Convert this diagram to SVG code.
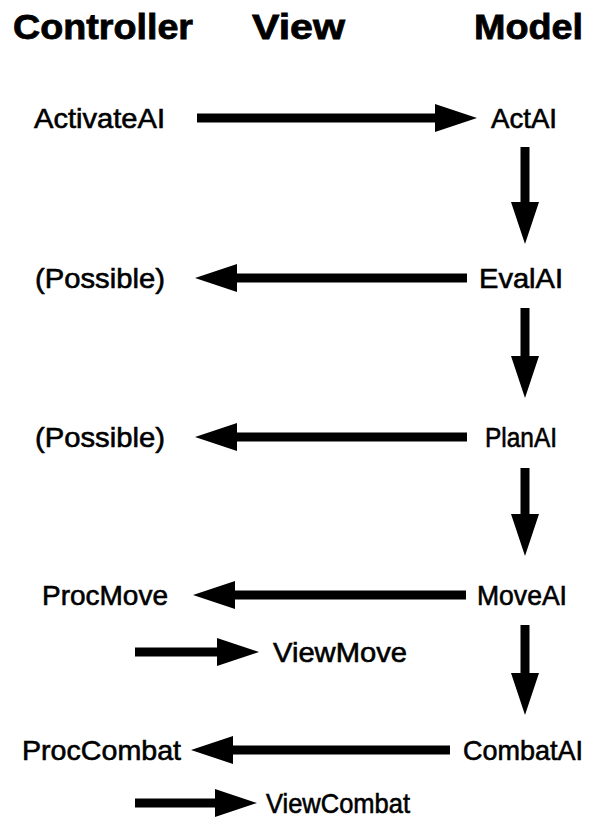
<svg xmlns="http://www.w3.org/2000/svg" width="589" height="818" viewBox="0 0 589 818">
<defs>
<style>
.hdr{font-family:"Liberation Sans",Arial,sans-serif;font-weight:bold;font-size:35px;fill:#000;stroke:#000;stroke-width:0.8}
.lbl{font-family:"Liberation Sans",Arial,sans-serif;font-size:28px;fill:#000;stroke:#000;stroke-width:0.6}
.con{stroke:#000;stroke-width:9;fill:none}
</style>
<marker id="ah" markerUnits="userSpaceOnUse" markerWidth="44" markerHeight="30" refX="1" refY="14" orient="auto" overflow="visible">
<path d="M0,0 L42,14 L0,28 Z" fill="#000"/>
</marker>
</defs>
<rect width="589" height="818" fill="#fff"/>
<g id="headers">
<text class="hdr" x="13" y="39" textLength="180" lengthAdjust="spacingAndGlyphs">Controller</text>
<text class="hdr" x="252" y="39" textLength="93" lengthAdjust="spacingAndGlyphs">View</text>
<text class="hdr" x="474" y="39" textLength="109" lengthAdjust="spacingAndGlyphs">Model</text>
</g>
<g id="n-activateai"><text class="lbl" x="34" y="128" textLength="131" lengthAdjust="spacingAndGlyphs">ActivateAI</text></g>
<g id="n-actai"><text class="lbl" x="491" y="128" textLength="66" lengthAdjust="spacingAndGlyphs">ActAI</text></g>
<g id="n-possible1"><text class="lbl" x="35" y="288" textLength="130" lengthAdjust="spacingAndGlyphs">(Possible)</text></g>
<g id="n-evalai"><text class="lbl" x="479" y="288" textLength="84" lengthAdjust="spacingAndGlyphs">EvalAI</text></g>
<g id="n-possible2"><text class="lbl" x="35" y="447" textLength="130" lengthAdjust="spacingAndGlyphs">(Possible)</text></g>
<g id="n-planai"><text class="lbl" x="485" y="447" textLength="72" lengthAdjust="spacingAndGlyphs">PlanAI</text></g>
<g id="n-procmove"><text class="lbl" x="42" y="605" textLength="126" lengthAdjust="spacingAndGlyphs">ProcMove</text></g>
<g id="n-moveai"><text class="lbl" x="477" y="605" textLength="90" lengthAdjust="spacingAndGlyphs">MoveAI</text></g>
<g id="n-viewmove"><text class="lbl" x="273" y="662" textLength="134" lengthAdjust="spacingAndGlyphs">ViewMove</text></g>
<g id="n-proccombat"><text class="lbl" x="22" y="760" textLength="159" lengthAdjust="spacingAndGlyphs">ProcCombat</text></g>
<g id="n-combatai"><text class="lbl" x="463" y="760" textLength="120" lengthAdjust="spacingAndGlyphs">CombatAI</text></g>
<g id="n-viewcombat"><text class="lbl" x="266" y="813" textLength="144" lengthAdjust="spacingAndGlyphs">ViewCombat</text></g>
<g id="connectors">
<line class="con" x1="197" y1="118" x2="436" y2="118" marker-end="url(#ah)"/>
<line class="con" x1="467" y1="278" x2="236" y2="278" marker-end="url(#ah)"/>
<line class="con" x1="467" y1="437" x2="236" y2="437" marker-end="url(#ah)"/>
<line class="con" x1="466" y1="595" x2="234" y2="595" marker-end="url(#ah)"/>
<line class="con" x1="135" y1="652" x2="218" y2="652" marker-end="url(#ah)"/>
<line class="con" x1="450" y1="750" x2="232" y2="750" marker-end="url(#ah)"/>
<line class="con" x1="135" y1="803" x2="216" y2="803" marker-end="url(#ah)"/>
<line class="con" x1="525" y1="147" x2="525" y2="203" marker-end="url(#ah)"/>
<line class="con" x1="525" y1="308" x2="525" y2="357" marker-end="url(#ah)"/>
<line class="con" x1="525" y1="468" x2="525" y2="515" marker-end="url(#ah)"/>
<line class="con" x1="525" y1="625" x2="525" y2="674" marker-end="url(#ah)"/>
</g>
</svg>
